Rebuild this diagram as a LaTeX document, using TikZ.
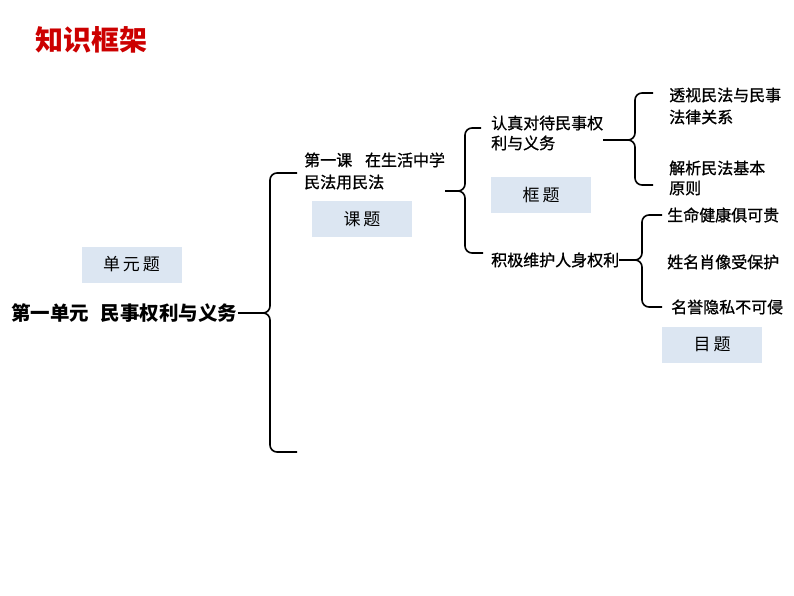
\documentclass[tikz,border=0pt]{standalone}
\usepackage{fontspec}
\newfontfamily\cjk{Noto Sans CJK SC}
\newfontfamily\cjkm[FakeBold=1]{Noto Sans CJK SC}
\definecolor{boxblue}{RGB}{220,230,242}
\definecolor{titlered}{RGB}{204,0,0}
\begin{document}
\begin{tikzpicture}[x=1pt,y=-1pt,
  txt/.style={inner sep=0pt,anchor=west,align=left,font=\cjkm\fontsize{16}{21}\selectfont},
  tag/.style={fill=boxblue,minimum width=100pt,minimum height=36pt,inner sep=0pt,font=\cjk\fontsize{17}{20}\selectfont},
  br/.style={line width=1.6pt,rounded corners=7pt},
  stub/.style={line width=1.6pt}]
\useasboundingbox (0,0) rectangle (794,596);
% title
\node[inner sep=0pt,text=titlered,font=\cjk\bfseries\fontsize{28}{30}\selectfont] (ttl) at (91,40) {知识框架};
% level tags
\node[tag] (t1) at (131.5,264.5) {单\hspace{3pt}元\hspace{3pt}题};
\node[tag] (t2) at (362,219) {课\hspace{3pt}题};
\node[tag] (t3) at (541,195) {框\hspace{3pt}题};
\node[tag] (t4) at (712,344.5) {目\hspace{3pt}题};
% texts
\node[txt,font=\cjk\bfseries\fontsize{19.5}{22}\selectfont] (unit) at (11,313) {第一单元\hspace{0.6em}民事权利与义务};
\node[txt,font=\cjkm\fontsize{16}{22}\selectfont] (lesson) at (304,171) {第一课\hspace{0.8em}在生活中学\\民法用民法};
\node[txt,font=\cjkm\fontsize{16}{20}\selectfont] (f1) at (491,133) {认真对待民事权\\利与义务};
\node[txt] (f2) at (491,260) {积极维护人身权利};
\node[txt,font=\cjkm\fontsize{16}{22}\selectfont] (i1) at (669,106) {透视民法与民事\\法律关系};
\node[txt,font=\cjkm\fontsize{16}{20}\selectfont] (i2) at (669,178) {解析民法基本\\原则};
\node[txt] (m1) at (667,215) {生命健康俱可贵};
\node[txt] (m2) at (667,262) {姓名肖像受保护};
\node[txt] (m3) at (671,307) {名誉隐私不可侵};
% brace 1
\coordinate (b1end) at (297,452);
\draw[stub] (unit.east) -- (262,313);
\draw[br] ([xshift=-7pt]lesson.west |- 0,173) -- (270,173) -- (270,313) -- (262,313);
\draw[br] (b1end) -- (270,452) -- (270,313) -- (262,313);
% brace 2
\coordinate (b2s) at (445,191);
\draw[stub] (b2s) -- (458,191);
\draw[br] ([xshift=-10pt]f1.west |- 0,128) -- (465,128) -- (465,191) -- (458,191);
\draw[br] ([xshift=-8pt]f2.west |- 0,253) -- (465,253) -- (465,191) -- (458,191);
% brace 3
\draw[stub] (f1.east |- 0,140) -- (628,140);
\draw[br] ([xshift=-16pt]i1.west |- 0,93) -- (635,93) -- (635,140) -- (628,140);
\draw[br] ([xshift=-16pt]i2.west |- 0,185) -- (635,185) -- (635,140) -- (628,140);
% brace 4
\draw[stub] (f2.east) -- (635,260);
\draw[br] ([xshift=-5pt]m1.west) -- (642,215) -- (642,260) -- (635,260);
\draw[br] ([xshift=-9pt]m3.west) -- (642,307) -- (642,260) -- (635,260);
\end{tikzpicture}
\end{document}
